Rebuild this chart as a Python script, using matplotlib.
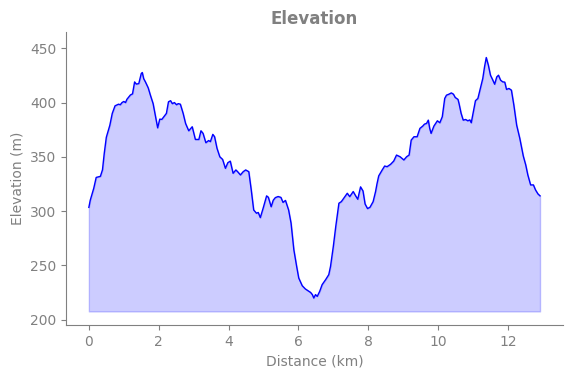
import matplotlib
matplotlib.use("Agg")
import matplotlib.pyplot as plt

distance_km = [
    0.00, 0.04, 0.14, 0.21, 0.33, 0.39, 0.44, 0.50, 0.60, 0.67, 0.75, 0.85, 0.90, 0.95,
    1.00, 1.05, 1.09, 1.19, 1.25, 1.31, 1.36, 1.43, 1.50, 1.53, 1.57, 1.62, 1.70, 1.76,
    1.84, 1.91, 1.97, 2.03, 2.09, 2.16, 2.22, 2.28, 2.34, 2.39, 2.45, 2.51, 2.56, 2.62,
    2.70, 2.77, 2.86, 2.96, 3.05, 3.15, 3.21, 3.27, 3.35, 3.43, 3.48, 3.55, 3.60, 3.67,
    3.75, 3.83, 3.91, 3.98, 4.05, 4.13, 4.21, 4.26, 4.34, 4.42, 4.49, 4.58, 4.65, 4.72,
    4.80, 4.85, 4.91, 4.99, 5.09, 5.14, 5.22, 5.28, 5.34, 5.42, 5.50, 5.56, 5.63, 5.72,
    5.79, 5.87, 5.95, 6.01, 6.11, 6.20, 6.30, 6.35, 6.40, 6.44, 6.49, 6.54, 6.61, 6.68,
    6.78, 6.87, 6.92, 7.00, 7.07, 7.16, 7.23, 7.30, 7.40, 7.47, 7.57, 7.64, 7.70, 7.78,
    7.85, 7.91, 7.98, 8.05, 8.14, 8.21, 8.25, 8.30, 8.40, 8.47, 8.54, 8.64, 8.73, 8.81,
    8.91, 9.02, 9.10, 9.17, 9.23, 9.31, 9.40, 9.48, 9.56, 9.61, 9.67, 9.72, 9.76, 9.80,
    9.88, 9.98, 10.05, 10.12, 10.19, 10.24, 10.31, 10.38, 10.44, 10.49, 10.57, 10.60,
    10.66, 10.72, 10.79, 10.85, 10.91, 10.95, 11.01, 11.07, 11.14, 11.22, 11.28, 11.33,
    11.38, 11.44, 11.50, 11.56, 11.62, 11.68, 11.73, 11.79, 11.85, 11.91, 11.96, 12.03,
    12.10, 12.17, 12.25, 12.34, 12.44, 12.51, 12.57, 12.65, 12.73, 12.79, 12.86, 12.92,
]

elevation_m = [
    303.4, 310, 321, 331, 332, 338, 353, 368, 379, 390, 397, 398.5, 398, 400,
    401, 400, 403, 407, 408, 419, 417, 417.5, 426.7, 427.7, 422, 419, 413.5, 407,
    399, 387, 376.7, 384.7, 384.5, 387.5, 390, 400.7, 401.7, 399, 400, 398, 399, 398.5,
    390, 380.7, 374, 377.7, 366, 366, 374, 371.6, 363, 365, 364, 370.7, 368.5, 357.8,
    350, 347.6, 339.4, 344.6, 346, 334.8, 337.9, 336.3, 333.3, 336.3, 337.9, 336.3, 319.5, 301,
    298, 298.7, 294, 302.6, 314, 312.7, 304, 310, 312.4, 313.4, 312.6, 308, 309.8, 301,
    288.9, 264.3, 249, 238.3, 231.2, 228.2, 226, 225, 223, 219.9, 223, 221.4, 226, 232.2,
    236.8, 241.4, 249, 267.4, 285.8, 307.2, 308.7, 311.8, 316.4, 313.3, 318, 314, 310.9, 322.3,
    318.5, 306.5, 302.3, 303.5, 308.7, 318, 325, 332.4, 337.9, 341.5, 340.9, 343.1, 346.1, 351.6,
    350.1, 347.1, 350.1, 351.6, 365.4, 368.5, 368.5, 376.2, 378.3, 380.1, 380.8, 383.8, 376.2, 371.6,
    378.3, 383.2, 381.4, 386.9, 403.8, 406.8, 407.7, 408.9, 407.7, 404.7, 402.9, 399.1,
    390, 383.8, 384.4, 383.2, 384, 381.4, 391.6, 401.7, 403.8, 414.5, 422.2, 432.9,
    441.5, 434.4, 425.2, 421.2, 416.9, 423.6, 425.2, 420.6, 419.1, 418.8, 412.1, 413,
    411.4, 397.6, 379.2, 367, 350.7, 342.5, 333.3, 324.1, 324.1, 319.5, 315.8, 314,
]

fill_base_m = 207.5
y_limits = (195, 465)

title_text = "Elevation"
x_label = "Distance (km)"
y_label = "Elevation (m)"

text_color = "gray"

fig = plt.figure(figsize=(5.71, 3.78), dpi=100)
ax = fig.add_axes([0.1161, 0.1402, 0.8692, 0.7751])

ax.fill_between(distance_km, elevation_m, fill_base_m, color="blue", alpha=0.2)
ax.plot(distance_km, elevation_m, color="blue", linewidth=1.0)

ax.set_ylim(*y_limits)
ax.set_title(title_text, fontsize=12, fontweight="bold", color=text_color)
ax.set_xlabel(x_label, fontsize=10, color=text_color)
ax.set_ylabel(y_label, fontsize=10, color=text_color)

for side in ("top", "right"):
    ax.spines[side].set_visible(False)
for side in ("left", "bottom"):
    ax.spines[side].set_color(text_color)
ax.tick_params(colors=text_color, labelsize=10)

fig.savefig("out.png", dpi=100)
